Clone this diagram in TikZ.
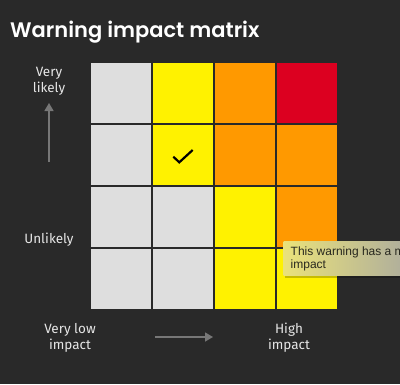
\documentclass[tikz,border=0pt]{standalone}
\usepackage{fontspec}
\setmainfont{Fira Sans}
\newfontfamily\tipfont{Liberation Sans}
\newfontfamily\titlefont{Poppins}[UprightFont=* SemiBold]
\usetikzlibrary{arrows.meta}
\definecolor{bgc}{HTML}{292929}
\definecolor{cgrey}{HTML}{DEDEDE}
\definecolor{cyel}{HTML}{FFF200}
\definecolor{corg}{HTML}{FF9900}
\definecolor{cred}{HTML}{DC0020}
\definecolor{lbl}{HTML}{E6E6E6}
\definecolor{arr}{HTML}{777777}
\definecolor{tipL}{HTML}{EAE27A}
\definecolor{tipM}{HTML}{D2CB8C}
\definecolor{tipR}{HTML}{A8A8A0}
\tikzset{
  cell/.style={minimum width=60pt, minimum height=60pt, inner sep=0pt, draw=none},
  lab/.style={text=lbl, font=\fontsize{13.5}{16}\selectfont, align=center, inner sep=0pt},
  axisarrow/.style={draw=arr, line width=1.4pt, -{Triangle[length=8pt,width=9pt]}},
}
\begin{document}
\begin{tikzpicture}[x=1pt,y=-1pt]
\fill[bgc] (0,0) rectangle (400,384);
\useasboundingbox (0,0) rectangle (400,384);
\node[anchor=base west, text=white, font=\titlefont\fontsize{21}{25}\selectfont, inner sep=0pt] (title) at (10,37) {Warning impact matrix};
% row 1
\node[cell, fill=cgrey] (c11) at (121,93) {};
\node[cell, fill=cyel]  (c12) at (183,93) {};
\node[cell, fill=corg]  (c13) at (245,93) {};
\node[cell, fill=cred]  (c14) at (307,93) {};
% row 2
\node[cell, fill=cgrey] (c21) at (121,155) {};
\node[cell, fill=cyel]  (c22) at (183,155) {};
\node[cell, fill=corg]  (c23) at (245,155) {};
\node[cell, fill=corg]  (c24) at (307,155) {};
% row 3
\node[cell, fill=cgrey] (c31) at (121,217) {};
\node[cell, fill=cgrey] (c32) at (183,217) {};
\node[cell, fill=cyel]  (c33) at (245,217) {};
\node[cell, fill=corg]  (c34) at (307,217) {};
% row 4
\node[cell, fill=cgrey] (c41) at (121,279) {};
\node[cell, fill=cgrey] (c42) at (183,279) {};
\node[cell, fill=cyel]  (c43) at (245,279) {};
\node[cell, fill=cyel]  (c44) at (307,279) {};
% check mark
\draw[black, line width=2.2pt] ([shift={(-9.7,1.7)}]c22.center) -- ([shift={(-3.7,7.3)}]c22.center) -- ([shift={(9.7,-5)}]c22.center);
% left labels
\node[lab] (vlikely) at (49,81) {Very\\likely};
\coordinate (upS) at (49,162);
\coordinate (upE) at (49,103);
\draw[axisarrow] (upS) -- (upE);
\node[lab] (unlikely) at (49,240) {Unlikely};
% bottom labels
\node[lab] (vlow) at (70,338) {Very low\\impact};
\coordinate (rtS) at (155,337);
\coordinate (rtE) at (213,337);
\draw[axisarrow] (rtS) -- (rtE);
\node[lab] (high) at (289,338) {High\\impact};
% tooltip
\begin{scope}
\clip (0,0) rectangle (400,384);
\fill[black, opacity=0.22] (285,243) rectangle (422,277.5);
\shade[left color=tipL, middle color=tipM, right color=tipR, shading angle=90] (283.5,241) rectangle (420,275);
\node[anchor=north west, inner sep=0pt, text={rgb,255:red,40;green,40;blue,30}, font=\tipfont\fontsize{12}{13.5}\selectfont, align=left] (tip) at (290.5,246.3) {This warning has a medium\\impact};
\end{scope}
\end{tikzpicture}
\end{document}
